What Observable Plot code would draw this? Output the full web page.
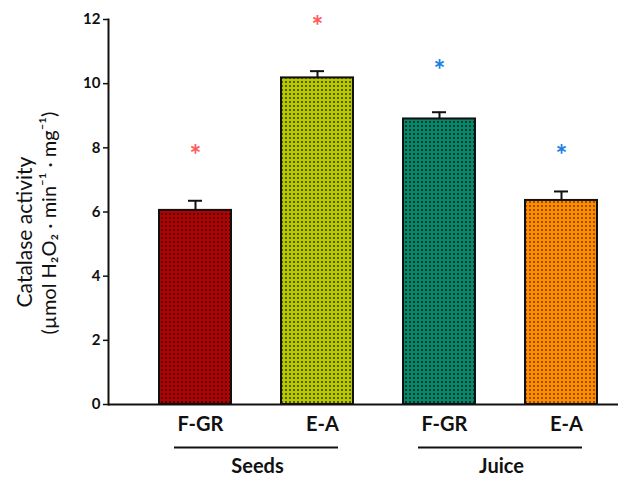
<!DOCTYPE html>
<html>
<head>
<meta charset="utf-8">
<script src="https://cdn.jsdelivr.net/npm/d3@7"></script>
<script src="https://cdn.jsdelivr.net/npm/@observablehq/plot@0.6"></script>
<style>
  html, body { margin: 0; padding: 0; background: #fff; }
</style>
</head>
<body>
<div id="chart"></div>
<script>
// ---- data ----
const groups = ["Seeds", "Seeds", "Juice", "Juice"];
const varieties = ["F-GR", "E-A", "F-GR", "E-A"];
const means = [6.05, 10.18, 8.9, 6.36];
const errors = [0.30, 0.21, 0.21, 0.28];
const starY = [8.0, 12.0, 10.65, 8.0];
const starColors = ["#ff5a5a", "#ff5a5a", "#1a80e6", "#1a80e6"];
const barColors = ["#b30000", "#b8c800", "#07876a", "#ff8c00"];
const dotColors = ["#4a0000", "#566000", "#023a2f", "#9a5200"];
const yTicks = [0, 2, 4, 6, 8, 10, 12];
const yTitle1 = "Catalase activity";
const yTitle2 = "(\u00B5mol H\u2082O\u2082 \u00B7 min\u207B\u00B9 \u00B7 mg\u207B\u00B9)";

const keys = groups.map((g, i) => g + " " + varieties[i]);
const data = keys.map((k, i) => ({
  key: k, group: groups[i], variety: varieties[i],
  mean: means[i], err: errors[i], star: starY[i],
  starColor: starColors[i], pat: "url(#pat" + i + ")"
}));
const groupNames = Array.from(new Set(groups));
const groupData = groupNames.map(g => {
  const ks = keys.filter((k, i) => groups[i] === g);
  return {group: g, first: ks[0], last: ks[ks.length - 1]};
});

const font = "Lato, 'Open Sans', sans-serif";

const chart = Plot.plot({
  width: 635,
  height: 484,
  marginLeft: 108,
  marginRight: 17,
  marginTop: 19,
  marginBottom: 80,
  style: {fontFamily: font, color: "#111", background: "#fff"},
  x: {domain: keys, range: [134, 622], paddingInner: 0.41, paddingOuter: 0.205, axis: null},
  y: {domain: [0, 12], axis: null},
  color: {type: "identity"},
  marks: [
    Plot.axisY({ticks: yTicks, tickSize: 5, tickPadding: 3, fontSize: 15, fontWeight: "bold", label: null, strokeWidth: 1.5}),
    Plot.frame({anchor: "left", strokeWidth: 2}),
    Plot.ruleX(data, {x: "key", y1: "mean", y2: d => d.mean + d.err, strokeWidth: 2}),
    Plot.tickY(data, {x: "key", y: d => d.mean + d.err, insetLeft: 29, insetRight: 29, strokeWidth: 2}),
    Plot.barY(data, {x: "key", y: "mean", fill: "pat", stroke: "#111", strokeWidth: 2}),
    Plot.ruleY([0], {strokeWidth: 2}),
    Plot.text(data, {x: "key", y: "star", text: () => "*", fill: "starColor", fontSize: 28, fontWeight: "bold", dy: 8}),
    Plot.text(data, {x: "key", text: "variety", frameAnchor: "bottom", dy: 26, dx: 5, fontSize: 20, fontWeight: "bold"}),
    Plot.ruleY(groupData, {x1: "first", x2: "last", y: () => 0, dy: 43, insetLeft: 15, insetRight: 15, strokeWidth: 2}),
    Plot.text(groupData, {x: "first", text: "group", frameAnchor: "bottom", dy: 68, dx: 62, fontSize: 20, fontWeight: "bold"}),
    Plot.text([yTitle1], {text: d => d, frameAnchor: "left", textAnchor: "middle", rotate: -90, dx: -83, dy: 20, fontSize: 21}),
    Plot.text([yTitle2], {text: d => d, frameAnchor: "left", textAnchor: "middle", rotate: -90, dx: -59, dy: 11, fontSize: 20})
  ]
});

// dotted fill patterns
const defs = d3.select(chart).insert("defs", ":first-child");
barColors.forEach((c, i) => {
  const p = defs.append("pattern")
    .attr("id", "pat" + i)
    .attr("patternUnits", "userSpaceOnUse")
    .attr("width", 4).attr("height", 4);
  p.append("rect").attr("width", 4).attr("height", 4).attr("fill", c);
  p.append("rect").attr("x", 1).attr("y", 1).attr("width", 2).attr("height", 2).attr("fill", dotColors[i]);
});

document.getElementById("chart").appendChild(chart);
</script>
</body>
</html>
